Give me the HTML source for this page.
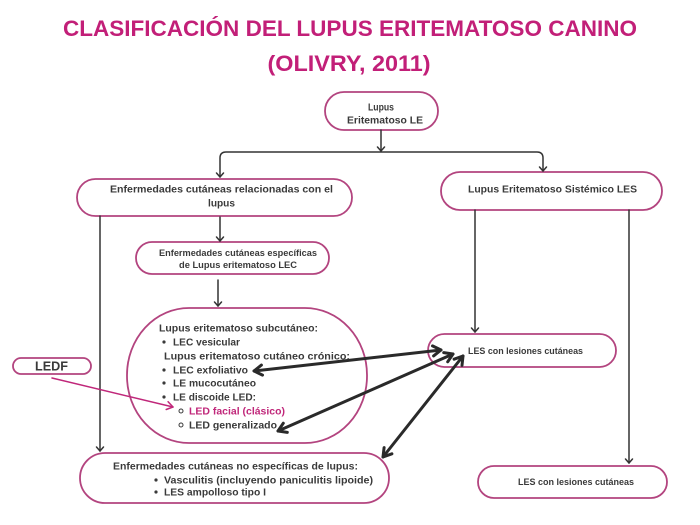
<!DOCTYPE html>
<html>
<head>
<meta charset="utf-8">
<style>
  html,body{margin:0;padding:0;background:#fff;}
  svg{display:block;}
  text{font-family:"Liberation Sans","DejaVu Sans",sans-serif;font-weight:bold;}
</style>
</head>
<body>
<svg width="700" height="525" viewBox="0 0 700 525" xmlns="http://www.w3.org/2000/svg">
  <rect x="0" y="0" width="700" height="525" fill="#ffffff"/>

  <!-- Title -->
  <text x="350" y="36" text-anchor="middle" font-size="22" fill="#c21f78" textLength="574" lengthAdjust="spacingAndGlyphs">CLASIFICACIÓN DEL LUPUS ERITEMATOSO CANINO</text>
  <text x="349" y="71" text-anchor="middle" font-size="22" fill="#c21f78" textLength="163" lengthAdjust="spacingAndGlyphs">(OLIVRY, 2011)</text>

  <!-- Boxes -->
  <g fill="#ffffff" stroke="#b3447f" stroke-width="1.8">
    <rect x="325" y="92" width="113" height="38" rx="19" ry="19"/>
    <rect x="77" y="179" width="275" height="37" rx="18.5" ry="18.5"/>
    <rect x="441" y="172" width="221" height="38" rx="19" ry="19"/>
    <rect x="136" y="242" width="193" height="32" rx="16" ry="16"/>
    <rect x="127" y="308" width="240" height="135" rx="62" ry="67"/>
    <rect x="428" y="334" width="188" height="33" rx="16.5" ry="16.5"/>
    <rect x="80" y="453" width="309" height="50" rx="25" ry="25"/>
    <rect x="478" y="466" width="189" height="32" rx="16" ry="16"/>
    <rect x="13" y="358" width="78" height="16" rx="8" ry="8"/>
  </g>

  <!-- Thin connectors -->
  <g fill="none" stroke="#333333" stroke-width="1.5" stroke-linecap="round" stroke-linejoin="round">
    <line x1="381" y1="130" x2="381" y2="151"/>
    <polyline points="377.5,147 381,151 384.5,147"/>
    <path d="M220,177 V158 Q220,152 226,152 H537 Q543,152 543,158 V171"/>
    <polyline points="216.5,173 220,177 223.5,173"/>
    <polyline points="539.5,167 543,171 546.5,167"/>
    <line x1="220" y1="217" x2="220" y2="241"/>
    <polyline points="216.5,237 220,241 223.5,237"/>
    <line x1="218" y1="280" x2="218" y2="306"/>
    <polyline points="214.5,302 218,306 221.5,302"/>
    <line x1="100" y1="216" x2="100" y2="451"/>
    <polyline points="96.5,447 100,451 103.5,447"/>
    <line x1="475" y1="210" x2="475" y2="332"/>
    <polyline points="471.5,328 475,332 478.5,328"/>
    <line x1="629" y1="210" x2="629" y2="463"/>
    <polyline points="625.5,459 629,463 632.5,459"/>
  </g>

  <!-- Pink LEDF arrow -->
  <g fill="none" stroke="#c0277a" stroke-width="1.5" stroke-linecap="round" stroke-linejoin="round">
    <line x1="52" y1="378" x2="173" y2="407"/>
    <polyline points="166.2,409.5 173,407 168.1,401.7"/>
  </g>

  <!-- Thick double arrows -->
  <g fill="none" stroke="#2a2a2a" stroke-width="3" stroke-linecap="round" stroke-linejoin="round">
    <line x1="254" y1="371" x2="441" y2="350"/>
    <polyline points="433.6,355.9 441,350 432.5,345.9"/>
    <polyline points="262.5,375.1 254,371 261.4,365.1"/>

    <line x1="278" y1="431" x2="453" y2="354"/>
    <polyline points="447.7,361.8 453,354 443.7,352.6"/>
    <polyline points="287.3,432.4 278,431 283.3,423.2"/>

    <line x1="383" y1="457" x2="463" y2="356"/>
    <polyline points="462.0,365.4 463,356 454.1,359.2"/>
    <polyline points="391.9,453.8 383,457 384.1,447.6"/>
  </g>

  <!-- Node texts -->
  <g fill="#3a3a3a">
    <text x="368" y="110.5" font-size="10" textLength="26" lengthAdjust="spacingAndGlyphs">Lupus</text>
    <text x="347" y="123.5" font-size="10" textLength="76" lengthAdjust="spacingAndGlyphs">Eritematoso LE</text>

    <text x="110" y="192.5" font-size="10" textLength="223" lengthAdjust="spacingAndGlyphs">Enfermedades cutáneas relacionadas con el</text>
    <text x="208" y="206.5" font-size="10" textLength="27" lengthAdjust="spacingAndGlyphs">lupus</text>

    <text x="159" y="256" font-size="9" textLength="158" lengthAdjust="spacingAndGlyphs">Enfermedades cutáneas específicas</text>
    <text x="179" y="268" font-size="9" textLength="118" lengthAdjust="spacingAndGlyphs">de Lupus eritematoso LEC</text>

    <text x="468" y="192.5" font-size="10.5" textLength="169" lengthAdjust="spacingAndGlyphs">Lupus Eritematoso Sistémico LES</text>

    <text x="468" y="354" font-size="9" textLength="115" lengthAdjust="spacingAndGlyphs">LES con lesiones cutáneas</text>
    <text x="518" y="485" font-size="9" textLength="116" lengthAdjust="spacingAndGlyphs">LES con lesiones cutáneas</text>

    <!-- Oval content -->
    <text x="159" y="331.5" font-size="10.5" textLength="159" lengthAdjust="spacingAndGlyphs">Lupus eritematoso subcutáneo:</text>
    <circle cx="164" cy="342" r="1.6"/>
    <text x="173" y="345.5" font-size="10.5" textLength="67" lengthAdjust="spacingAndGlyphs">LEC vesicular</text>
    <text x="164" y="359.5" font-size="10.5" textLength="186" lengthAdjust="spacingAndGlyphs">Lupus eritematoso cutáneo crónico:</text>
    <circle cx="164" cy="370" r="1.6"/>
    <text x="173" y="373.5" font-size="10.5" textLength="75" lengthAdjust="spacingAndGlyphs">LEC exfoliativo</text>
    <circle cx="164" cy="383" r="1.6"/>
    <text x="173" y="386.5" font-size="10.5" textLength="83" lengthAdjust="spacingAndGlyphs">LE mucocutáneo</text>
    <circle cx="164" cy="397" r="1.6"/>
    <text x="173" y="400.5" font-size="10.5" textLength="83" lengthAdjust="spacingAndGlyphs">LE discoide LED:</text>
    <circle cx="181" cy="411" r="2" fill="none" stroke="#3a3a3a" stroke-width="1"/>
    <text x="189" y="414.5" font-size="10.5" fill="#c0277a" textLength="96" lengthAdjust="spacingAndGlyphs">LED facial (clásico)</text>
    <circle cx="181" cy="425" r="2" fill="none" stroke="#3a3a3a" stroke-width="1"/>
    <text x="189" y="428.5" font-size="10.5" textLength="88" lengthAdjust="spacingAndGlyphs">LED generalizado</text>

    <!-- Bottom-left box content -->
    <text x="113" y="469.5" font-size="10" textLength="245" lengthAdjust="spacingAndGlyphs">Enfermedades cutáneas no específicas de lupus:</text>
    <circle cx="156" cy="480" r="1.6"/>
    <text x="164" y="483.5" font-size="10" textLength="209" lengthAdjust="spacingAndGlyphs">Vasculitis (incluyendo paniculitis lipoide)</text>
    <circle cx="156" cy="492" r="1.6"/>
    <text x="164" y="495.5" font-size="10" textLength="102" lengthAdjust="spacingAndGlyphs">LES ampolloso tipo I</text>

    <!-- LEDF -->
    <text x="35" y="370.5" font-size="13" textLength="33" lengthAdjust="spacingAndGlyphs">LEDF</text>
  </g>
</svg>
</body>
</html>
